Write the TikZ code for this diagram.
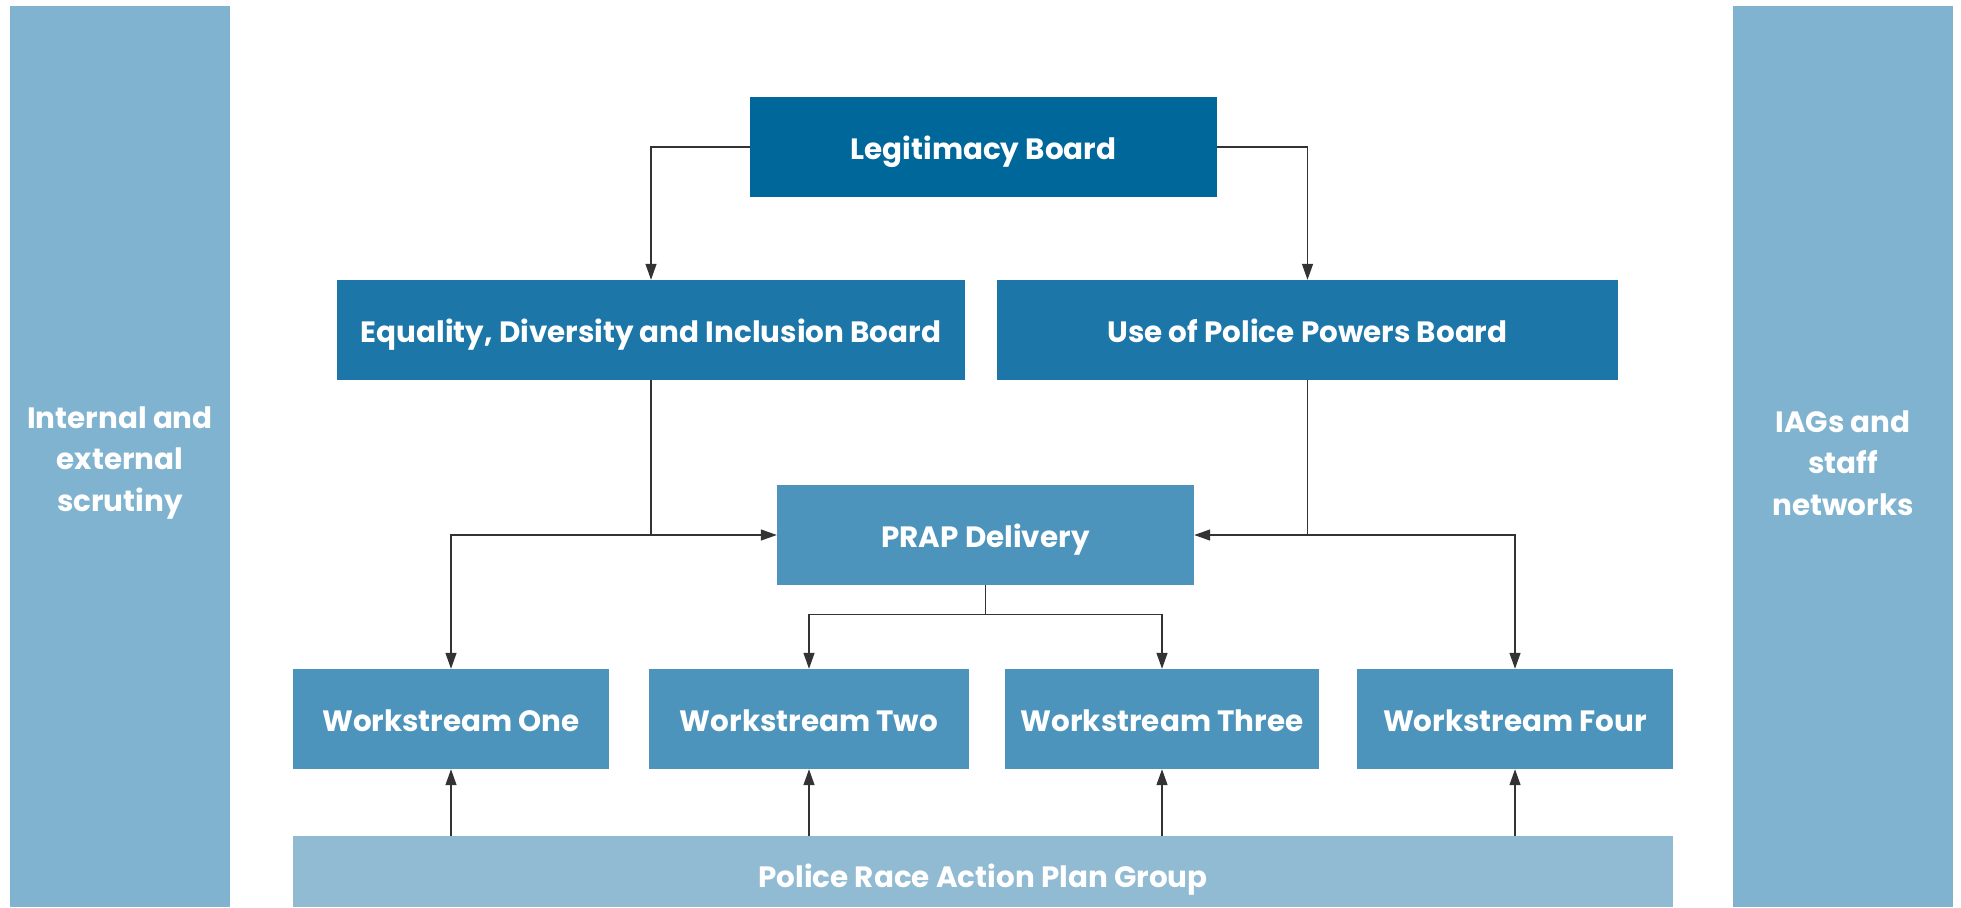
\documentclass[tikz,border=0pt]{standalone}
\usepackage{fontspec}
\setmainfont{Poppins}
\usetikzlibrary{arrows.meta}
\definecolor{cLegit}{HTML}{00679B}
\definecolor{cBoard}{HTML}{1D76A8}
\definecolor{cWork}{HTML}{4C94BC}
\definecolor{cGroup}{HTML}{90BBD3}
\definecolor{cSide}{HTML}{80B3D0}
\definecolor{cLine}{HTML}{333333}
\tikzset{
  txt/.style={inner sep=0pt, text=white, font=\fontsize{29.4}{41.5}\selectfont\bfseries, align=center},
  box/.style={txt, rectangle, minimum height=100pt, text height=24pt, text depth=0pt},
  side/.style={rectangle, inner sep=0pt, fill=cSide, minimum width=220pt, minimum height=901pt},
  conn/.style={draw=cLine, line width=1.3pt},
  arr/.style={conn, -{Triangle[length=16pt,width=11pt]}},
}
\begin{document}
\begin{tikzpicture}[x=1pt,y=-1pt]
\useasboundingbox (0,0) rectangle (1961,907);
\node[side] (left) at (120,456.5) {};
\node[side] (right) at (1843,456.5) {};
\node[txt] (lefttext) at (120,463) {Internal and\\external\\scrutiny};
\node[txt] (righttext) at (1843,463) {IAGs and\\staff\\networks};
\node[box, fill=cLegit, minimum width=467pt] (legit) at (983.5,147) {Legitimacy Board};
\node[box, fill=cBoard, minimum width=628pt] (edi) at (651,330) {Equality, Diversity and Inclusion Board};
\node[box, fill=cBoard, minimum width=621pt] (upp) at (1307.5,330) {Use of Police Powers Board};
\node[box, fill=cWork, minimum width=417pt] (prap) at (985.5,535) {PRAP Delivery};
\node[box, fill=cWork, minimum width=316pt] (ws1) at (451,719) {Workstream One};
\node[box, fill=cWork, minimum width=320pt] (ws2) at (809,719) {Workstream Two};
\node[box, fill=cWork, minimum width=314pt] (ws3) at (1162,719) {Workstream Three};
\node[box, fill=cWork, minimum width=316pt] (ws4) at (1515,719) {Workstream Four};
\node[box, fill=cGroup, minimum width=1380pt, minimum height=71pt, text height=32pt] (group) at (983,871.5) {Police Race Action Plan Group};
% coordinates
\coordinate (jl) at (edi.south |- prap.west);
\coordinate (jr) at (upp.south |- prap.east);
\coordinate (j1) at (ws1.north |- prap.west);
\coordinate (j4) at (ws4.north |- prap.east);
\coordinate (pb) at ([yshift=-29pt]prap.south);
\coordinate (p2) at (ws2.north |- pb);
\coordinate (p3) at (ws3.north |- pb);
% connectors
\draw[arr] (legit.west) -| (edi.north);
\draw[arr] (legit.east) -| (upp.north);
\draw[conn] (edi.south) -- (jl);
\draw[conn] (upp.south) -- (jr);
\draw[arr] (jl) -- (prap.west);
\draw[arr] (jl) -- (j1) -- (ws1.north);
\draw[arr] (jr) -- (prap.east);
\draw[arr] (jr) -- (j4) -- (ws4.north);
\draw[conn] (prap.south) -- (pb);
\draw[arr] (pb) -- (p2) -- (ws2.north);
\draw[arr] (pb) -- (p3) -- (ws3.north);
\draw[arr] (group.north -| ws1.north) -- (ws1.south);
\draw[arr] (group.north -| ws2.north) -- (ws2.south);
\draw[arr] (group.north -| ws3.north) -- (ws3.south);
\draw[arr] (group.north -| ws4.north) -- (ws4.south);
\end{tikzpicture}
\end{document}
